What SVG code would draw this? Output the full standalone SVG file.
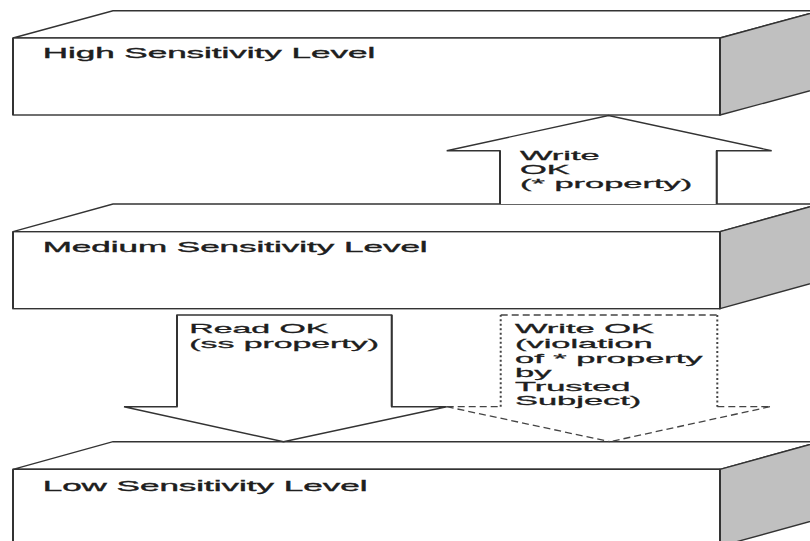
<svg xmlns="http://www.w3.org/2000/svg" width="810" height="541" viewBox="0 0 810 541">
<style>
  .face{fill:#ffffff;stroke:#333333;stroke-width:1.4;stroke-linejoin:miter}
  .side{fill:#c0c0c0;stroke:#333333;stroke-width:1.4}
  .vert{stroke:#333333;stroke-width:2;fill:none}
  .lbl{font-family:"Liberation Sans",Arial,sans-serif;font-size:14px;fill:#1e1e1e;stroke:#1e1e1e;stroke-width:0.35}
  .alb{font-family:"Liberation Sans",Arial,sans-serif;font-size:13px;fill:#1e1e1e;stroke:#1e1e1e;stroke-width:0.3}
  .arrow{fill:#ffffff;stroke:#333333;stroke-width:1.4;stroke-linejoin:miter}
  .dh{fill:none;stroke:#444444;stroke-width:1.3;stroke-dasharray:7 4}
  .dv{fill:none;stroke:#444444;stroke-width:2;stroke-dasharray:2 2.5}
</style>
<rect width="810" height="541" fill="#ffffff"/>

<g id="box-high">
  <polygon class="face" points="13,38 113,10.7 820,10.7 720,38"/>
  <polygon class="side" points="720,38 820,10.7 820,88 720,115"/>
  <rect class="face" x="13" y="38" width="707" height="77"/>
  <line class="vert" x1="13" y1="38" x2="13" y2="115"/>
  <line class="vert" x1="720" y1="38" x2="720" y2="115"/>
  <text class="lbl" transform="translate(42.7 58) scale(2.5 1)">High Sensitivity Level</text>
</g>

<g id="box-medium">
  <polygon class="face" points="13,231.7 113,204 820,204 720,231.7"/>
  <polygon class="side" points="720,231.7 820,204 820,281 720,308.7"/>
  <rect class="face" x="13" y="231.7" width="707" height="77"/>
  <line class="vert" x1="13" y1="231.7" x2="13" y2="308.7"/>
  <line class="vert" x1="720" y1="231.7" x2="720" y2="308.7"/>
  <text class="lbl" transform="translate(42.7 252.3) scale(2.5 1)">Medium Sensitivity Level</text>
</g>

<g id="box-low">
  <polygon class="face" points="13,469.3 113,441.7 820,441.7 720,469.3"/>
  <polygon class="side" points="720,469.3 820,441.7 820,518.7 720,546.3"/>
  <rect class="face" x="13" y="469.3" width="707" height="77"/>
  <line class="vert" x1="13" y1="469.3" x2="13" y2="546.3"/>
  <line class="vert" x1="720" y1="469.3" x2="720" y2="546.3"/>
  <text class="lbl" transform="translate(42.7 490.7) scale(2.5 1)">Low Sensitivity Level</text>
</g>

<g id="connectors">
  <g id="arrow-write-up">
    <polyline class="arrow" points="500,204 500,150.7 446.7,150.7 608.5,115.5 771.7,150.7 716.7,150.7 716.7,204"/>
    <line class="vert" x1="500" y1="150.7" x2="500" y2="204"/>
    <line class="vert" x1="716.7" y1="150.7" x2="716.7" y2="204"/>
    <text class="alb" transform="translate(520 160) scale(2.65 1)">Write</text>
    <text class="alb" transform="translate(520 173.5) scale(2.65 1)">OK</text>
    <text class="alb" transform="translate(520 187.5) scale(2.65 1)">(* property)</text>
  </g>
  <g id="arrow-read-down">
    <polygon class="arrow" points="177,315 391.7,315 391.7,406.7 446.7,406.7 283.5,441.7 124,406.7 177,406.7"/>
    <line class="vert" x1="177" y1="315" x2="177" y2="406.7"/>
    <line class="vert" x1="391.7" y1="315" x2="391.7" y2="406.7"/>
    <text class="alb" transform="translate(189.3 333.3) scale(2.6 1)">Read OK</text>
    <text class="alb" transform="translate(189.3 347.8) scale(2.6 1)">(ss property)</text>
  </g>
  <g id="arrow-write-down-trusted">
    <line class="dh" x1="446.7" y1="406.7" x2="500.7" y2="406.7"/>
    <line class="dv" x1="500.7" y1="406.7" x2="500.7" y2="315"/>
    <line class="dh" x1="500.7" y1="315" x2="717.3" y2="315"/>
    <line class="dv" x1="717.3" y1="315" x2="717.3" y2="406.7"/>
    <line class="dh" x1="717.3" y1="406.7" x2="770" y2="406.7"/>
    <line class="dh" x1="770" y1="406.7" x2="610" y2="441.7"/>
    <line class="dh" x1="446.7" y1="406.7" x2="610" y2="441.7"/>
    <text class="alb" transform="translate(515 333.3) scale(2.65 1)">Write OK</text>
    <text class="alb" transform="translate(515 348.3) scale(2.65 1)">(violation</text>
    <text class="alb" transform="translate(515 363) scale(2.65 1)">of * property</text>
    <text class="alb" transform="translate(515 376.7) scale(2.65 1)">by</text>
    <text class="alb" transform="translate(515 390.7) scale(2.65 1)">Trusted</text>
    <text class="alb" transform="translate(515 405) scale(2.65 1)">Subject)</text>
  </g>
</g>
</svg>
